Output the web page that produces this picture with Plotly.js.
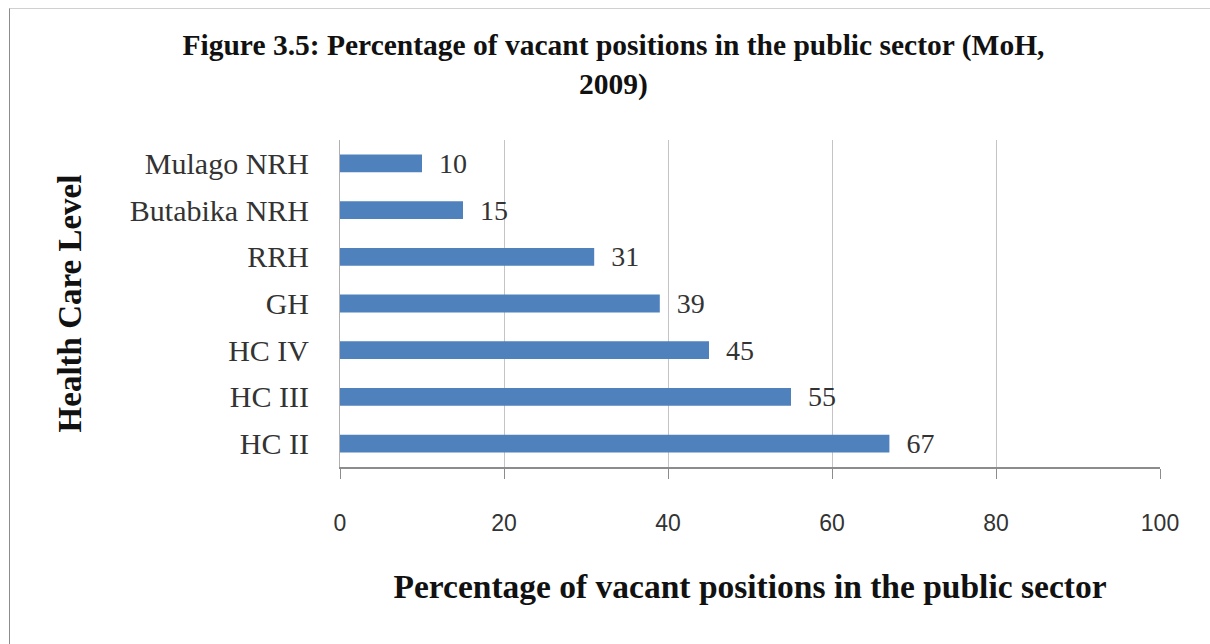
<!DOCTYPE html>
<html><head><meta charset="utf-8">
<script src="https://cdn.plot.ly/plotly-3.0.1.min.js"></script>
<style>
html,body{margin:0;padding:0;background:#fff;}
#wrap{position:relative;width:1210px;height:644px;}
#chart{width:1210px;height:644px;}
#frame{position:absolute;left:9px;top:8px;width:1201px;height:636px;border-left:1px solid #8c8c8c;border-top:1px solid #d0d0d0;pointer-events:none;}
</style></head>
<body>
<div id="wrap"><div id="chart"></div><div id="frame"></div></div>
<script>
const categories = ["HC II","HC III","HC IV","GH","RRH","Butabika NRH","Mulago NRH"];
const values = [67, 55, 45, 39, 31, 15, 10];
const xTicks = [0, 20, 40, 60, 80, 100];
const titleText = "Figure 3.5: Percentage of vacant positions in the public sector (MoH,<br>2009)";
const xTitle = "Percentage of vacant positions in the public sector";
const yTitle = "Health Care Level";

const serif = "Liberation Serif, Times New Roman, serif";

const trace = {
  type: "bar",
  orientation: "h",
  y: categories,
  x: values,
  width: 0.38,
  marker: {color: "#4F81BD", line: {color: "#4F81BD", width: 0}},
  texttemplate: "\u00a0\u00a0%{x}",
  textposition: "outside",
  constraintext: "none",
  cliponaxis: false,
  textfont: {family: serif, size: 28, color: "#333"},
  hoverinfo: "none"
};

const layout = {
  width: 1210, height: 644,
  margin: {l: 340, r: 50, t: 140, b: 177},
  paper_bgcolor: "#fff", plot_bgcolor: "#fff",
  showlegend: false,
  title: {text: titleText, x: 0.507, xanchor: "center", y: 0.914, yanchor: "top",
          font: {family: serif, size: 29.5, color: "#111", weight: "bold"}},
  xaxis: {
    range: [0, 100], tickvals: xTicks, ticktext: xTicks.map(String),
    showgrid: true, gridcolor: "#c4c4c4", gridwidth: 1,
    zeroline: false,
    showline: true, linecolor: "#8c8c8c", linewidth: 2,
    ticks: "outside", ticklen: 10, tickcolor: "#8c8c8c", tickwidth: 1,
    ticklabelstandoff: 24,
    tickfont: {family: "Liberation Sans, Arial, sans-serif", size: 23, color: "#333"},
    title: {text: xTitle, standoff: 40, font: {family: serif, size: 33.5, color: "#111", weight: "bold"}}
  },
  yaxis: {
    categoryorder: "array", categoryarray: categories,
    showline: true, linecolor: "#b0b0b0", linewidth: 1,
    showgrid: false, zeroline: false,
    ticks: "outside", ticklen: 24, tickcolor: "rgba(0,0,0,0)",
    tickfont: {family: serif, size: 30, color: "#333"},
    title: {text: yTitle, standoff: 38, font: {family: serif, size: 33, color: "#111", weight: "bold"}},
    automargin: false
  }
};

Plotly.newPlot("chart", [trace], layout, {displayModeBar: false, staticPlot: true});
</script>
</body></html>
